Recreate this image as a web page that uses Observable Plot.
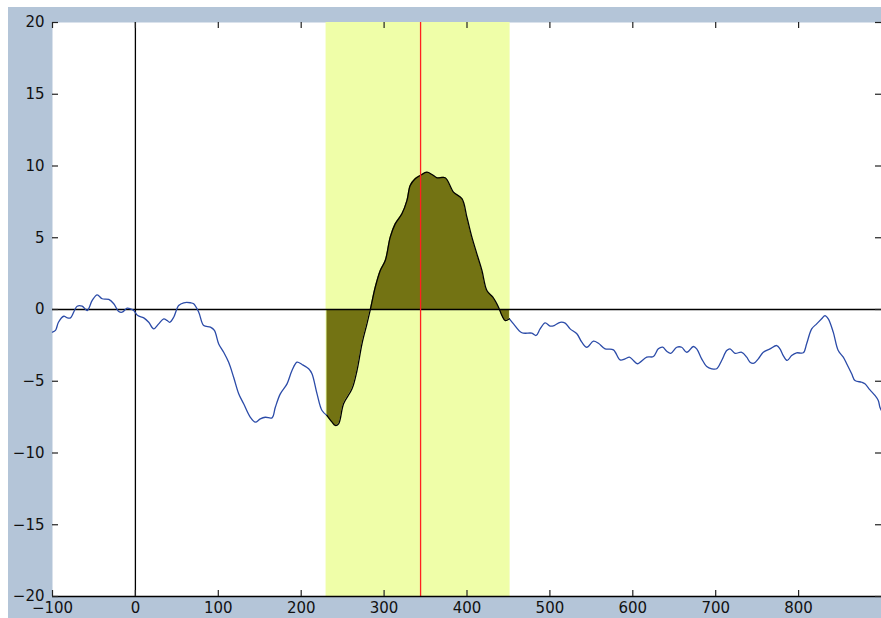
<!DOCTYPE html>
<html>
<head>
<meta charset="utf-8">
<script src="https://cdn.jsdelivr.net/npm/d3@7"></script>
<script src="https://cdn.jsdelivr.net/npm/@observablehq/plot@0.6"></script>
<style>
  html, body { margin: 0; padding: 0; background: #ffffff; }
  #wrap { position: absolute; left: 8px; top: 7px; width: 873px; height: 611px; background: #b4c5d8; overflow: hidden; }
  #wrap svg { display: block; }
</style>
</head>
<body>
<div id="wrap"></div>
<script>
// Signal (time in ms, amplitude)
const times = [-100,-96.4,-92.8,-86.4,-82.3,-78.3,-70.2,-64.2,-58.2,-52.1,
  -46.1,-40.1,-32.1,-26.1,-20.1,-16,-10,-6,-2,2.8,
  10.1,16.1,22.1,28.1,34.2,38.3,41.4,46.2,52.2,58.3,
  66.3,70.3,76.4,82.4,90.5,95.3,100.5,106.5,112.5,118.5,
  124.6,130.6,138.7,144.7,150.7,156.7,164.8,168.8,174.8,182.9,
  188.9,195,201,209,213,219.1,225.1,231.1,237.2,241.1,
  245.1,251.1,261.3,267.3,273.3,279.3,283.3,289.3,295.4,301.4,
  307.4,313.4,321.5,327.6,331.5,337.5,343.6,351.7,357.7,363.8,
  373.7,383.7,393.9,399.9,405.9,411.9,418,424,431.2,438,
  442.1,446.1,451.2,456.1,466.2,478.2,483.4,488.2,494.3,500.3,
  505.1,512.4,518.4,524.4,532.5,538.5,544.5,552.5,558.5,566.6,
  576.6,584.7,590.7,595.9,600.7,605.5,616.8,624.8,630.8,636.1,
  640.9,645.8,653,659,665.1,673,677.1,683.1,689.2,695.2,
  701.2,707.2,713.3,717.3,723.3,731.4,737.4,741.4,746.2,751.4,
  757.4,765.5,773.6,777.5,781.5,786.3,791.6,797.6,805.6,809.7,
  815.8,821.8,827.8,831.8,835.8,841.8,847.8,853.9,858,864,
  868,876.1,880,886.1,892.1,896.1,898.1,900];
const values = [-1.58,-1.46,-0.89,-0.47,-0.58,-0.58,0.23,0.23,-0.07,0.63,
  1.02,0.75,0.70,0.40,-0.14,-0.19,0.09,0.05,-0.07,-0.42,
  -0.58,-0.89,-1.35,-1.00,-0.65,-0.77,-0.89,-0.54,0.28,0.47,
  0.47,0.40,-0.19,-1.12,-1.23,-1.46,-2.40,-2.98,-3.68,-4.72,
  -5.87,-6.57,-7.51,-7.85,-7.62,-7.51,-7.55,-6.81,-5.88,-5.18,
  -4.25,-3.67,-3.83,-4.13,-4.48,-5.88,-7.04,-7.39,-7.85,-8.08,
  -7.97,-6.57,-5.53,-4.25,-2.39,-1.00,-0.02,1.55,2.72,3.41,
  5.04,5.97,6.67,7.60,8.64,9.11,9.34,9.57,9.41,9.18,
  9.18,8.18,7.72,6.43,5.04,3.88,2.72,1.32,0.86,0.16,
  -0.42,-0.77,-0.65,-1.00,-1.62,-1.65,-1.81,-1.35,-0.93,-1.16,
  -1.12,-0.89,-0.95,-1.35,-1.69,-2.28,-2.63,-2.21,-2.35,-2.74,
  -2.81,-3.51,-3.44,-3.32,-3.55,-3.78,-3.32,-3.28,-2.74,-2.63,
  -2.91,-3.05,-2.63,-2.63,-2.98,-2.58,-2.74,-3.44,-3.97,-4.13,
  -4.13,-3.55,-2.86,-2.74,-3.05,-2.98,-3.32,-3.67,-3.74,-3.44,
  -2.98,-2.74,-2.51,-2.74,-3.21,-3.55,-3.21,-3.02,-3.02,-2.39,
  -1.35,-1.00,-0.65,-0.42,-0.65,-1.58,-2.86,-3.32,-3.78,-4.48,
  -4.95,-5.07,-5.18,-5.60,-5.99,-6.34,-6.81,-7.05];

// Highlighted window and marker
const bandStart = [230];
const bandEnd = [452];
const markerTime = [344];

// Tick labels
const xTicks = [-100, 0, 100, 200, 300, 400, 500, 600, 700, 800];
const yTicks = [-20, -15, -10, -5, 0, 5, 10, 15, 20];

const pts = times.map((t, i) => ({x: t, y: values[i]}));
const b0 = bandStart[0], b1 = bandEnd[0];
const inBand = pts.filter(d => d.x >= b0 && d.x <= b1);
const firstIn = inBand[0].x, lastIn = inBand[inBand.length - 1].x;
const outBand = [
  ...pts.filter(d => d.x <= firstIn).map(d => ({...d, seg: "L"})),
  ...pts.filter(d => d.x >= lastIn).map(d => ({...d, seg: "R"}))
];
const band = bandStart.map((s, i) => ({x1: s, x2: bandEnd[i]}));

const W = 873, H = 611, ML = 44, MT = 15, MR = 0, MB = 22;
const frameW = W - ML - MR, frameH = H - MT - MB, TL = 6;
const tickStroke = "#222";
const crv = "catmull-rom";
const chart = Plot.plot({
  width: W,
  height: H,
  marginLeft: ML,
  marginTop: MT,
  marginRight: MR,
  marginBottom: MB,
  style: {background: "transparent", fontFamily: "'DejaVu Sans', sans-serif", fontSize: "15px", color: "#111"},
  x: {domain: [-100, 900], label: null},
  y: {domain: [-20, 20], label: null},
  marks: [
    Plot.frame({fill: "white", stroke: null}),
    Plot.rect(band, {x1: "x1", x2: "x2", fill: "#effea8"}),
    Plot.areaY(inBand, {x: "x", y: "y", fill: "#737313", curve: crv}),
    Plot.ruleY([0], {stroke: "black", strokeWidth: 1.3}),
    Plot.ruleX([0], {stroke: "black", strokeWidth: 1.3}),
    Plot.lineY(outBand, {x: "x", y: "y", z: "seg", stroke: "#2b4ba8", strokeWidth: 1.3, curve: crv}),
    Plot.lineY(inBand, {x: "x", y: "y", stroke: "black", strokeWidth: 1.3, curve: crv}),
    Plot.ruleX(markerTime, {stroke: "#ff2020", strokeWidth: 1.3}),
    Plot.ruleY([-20], {stroke: "black", strokeWidth: 1.5}),
    // inward ticks on all four sides
    Plot.tickX(xTicks, {x: d => d, insetTop: frameH - TL, stroke: tickStroke, strokeWidth: 1.2}),
    Plot.tickX(xTicks, {x: d => d, insetBottom: frameH - TL, stroke: tickStroke, strokeWidth: 1.2}),
    Plot.tickY(yTicks, {y: d => d, insetRight: frameW - TL, stroke: tickStroke, strokeWidth: 1.2}),
    Plot.tickY(yTicks, {y: d => d, insetLeft: frameW - TL, stroke: tickStroke, strokeWidth: 1.2}),
    Plot.axisX(xTicks, {anchor: "bottom", tickSize: 0, tickPadding: 6, label: null}),
    Plot.axisY(yTicks, {anchor: "left", tickSize: 0, tickPadding: 8, label: null})
  ]
});
document.getElementById("wrap").appendChild(chart);
</script>
</body>
</html>
